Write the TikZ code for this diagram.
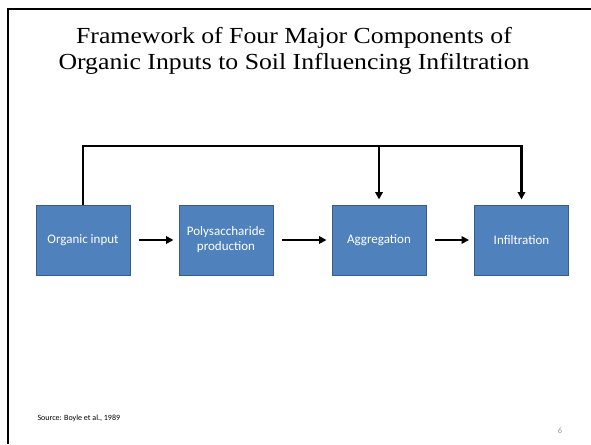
\documentclass[tikz,border=0pt]{standalone}
\usepackage{fontspec}
\setmainfont{Liberation Serif}
\newfontfamily\titlefont[FakeStretch=1.12]{Liberation Serif}
\newfontfamily\boxfont{Carlito}
\usetikzlibrary{arrows.meta,positioning}

\definecolor{stagefill}{HTML}{4F81BD}
\definecolor{stageline}{HTML}{385D8A}

\begin{document}
\begin{tikzpicture}[
    x=1pt, y=-1pt,
    >={Triangle[length=7.5pt,width=7.5pt]},
    stage/.style={draw=stageline,line width=1pt,fill=stagefill,text=white,
                  minimum width=94pt,minimum height=70pt,inner sep=2pt,
                  align=center,font=\boxfont\fontsize{13}{15}\selectfont},
    flow/.style={->,line width=1.8pt,shorten <=8pt,shorten >=5pt},
    bus/.style={line width=2.6pt},
  ]
  \useasboundingbox (0,0) rectangle (591,444);

  % slide frame, left and top edges only
  \draw[line width=2.4pt,line join=miter] (8,444) -- (8,9.2) -- (591,9.2);

  % --- title (base anchor sits on the second line) ---
  \node[align=center,font=\titlefont\fontsize{23}{26}\selectfont,anchor=base]
    (title) at (294,70)
    {Framework of Four Major Components of\\
     Organic Inputs to Soil Influencing Infiltration};

  % --- the four stages, left to right ---
  \node[stage] (org)   at (83,240)    {Organic input};
  \node[stage] (poly)  at (226,240)   {Polysaccharide\\production};
  \node[stage] (aggr)  at (379,240)   {Aggregation};
  \node[stage] (infil) at (521.5,240) {Infiltration};

  % --- chain of effects ---
  \draw[flow] (org)  -- (poly);
  \draw[flow] (poly) -- (aggr);
  \draw[flow] (aggr) -- (infil);

  % --- organic input also acts directly on the later stages ---
  \coordinate (top) at (0,146);
  \draw[bus,->,shorten >=5pt,line join=miter]
    (org.north) -- (org.north |- top) -- (infil.north |- top) -- (infil.north);
  \draw[bus,->,shorten >=5pt] (aggr.north |- top) -- (aggr.north);

  % --- footer ---
  \node[font=\boxfont\fontsize{8}{9}\selectfont,anchor=west] (src) at (34,418)
    {Source: Boyle et al., 1989};
  \node[font=\boxfont\fontsize{8.5}{9}\selectfont,text=gray!80] (num) at (560,431) {6};

\end{tikzpicture}
\end{document}
